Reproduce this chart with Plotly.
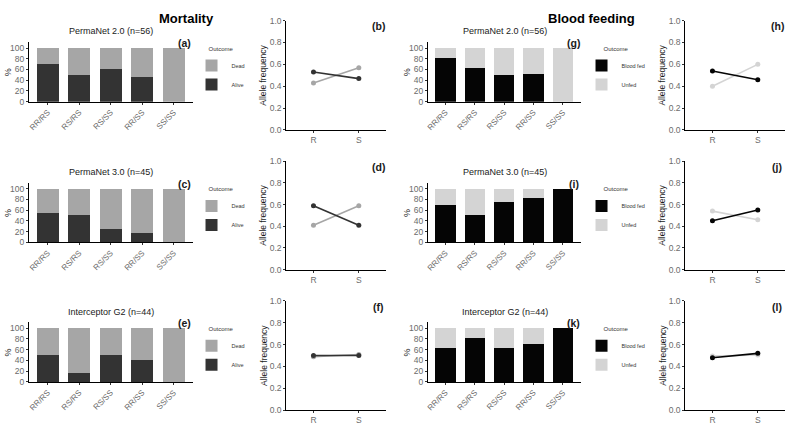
import plotly.graph_objects as go

W, H = 786, 425

genotypes = ["RR/RS", "RS/RS", "RS/SS", "RR/SS", "SS/SS"]
alleles = ["R", "S"]
net_titles = ["PermaNet 2.0 (n=56)", "PermaNet 3.0 (n=45)", "Interceptor G2 (n=44)"]

# Mortality (% of each genotype)
pn2_alive = [71, 49, 61, 46, 0]
pn2_dead = [29, 51, 39, 54, 100]
pn3_alive = [54, 50, 25, 18, 0]
pn3_dead = [46, 50, 75, 82, 100]
ig2_alive = [50, 17, 50, 40, 0]
ig2_dead = [50, 83, 50, 60, 100]

# Blood feeding (% of each genotype)
pn2_fed = [81, 63, 49, 52, 0]
pn2_unfed = [19, 37, 51, 48, 100]
pn3_fed = [69, 50, 75, 82, 100]
pn3_unfed = [31, 50, 25, 18, 0]
ig2_fed = [63, 82, 63, 70, 100]
ig2_unfed = [37, 18, 37, 30, 0]

# Allele frequencies (R, S)
pn2_alive_af = [0.53, 0.47]
pn2_dead_af = [0.43, 0.57]
pn3_alive_af = [0.59, 0.41]
pn3_dead_af = [0.41, 0.59]
ig2_alive_af = [0.50, 0.50]
ig2_dead_af = [0.49, 0.51]

pn2_fed_af = [0.54, 0.46]
pn2_unfed_af = [0.40, 0.60]
pn3_fed_af = [0.45, 0.55]
pn3_unfed_af = [0.54, 0.46]
ig2_fed_af = [0.48, 0.52]
ig2_unfed_af = [0.495, 0.505]

C_DEAD = "#a6a6a6"
C_ALIVE = "#333333"
C_FED = "#050505"
C_UNFED = "#d4d4d4"
FONT = "Arial, Liberation Sans, sans-serif"
TICKC = "#6b6b6b"


def px_x(p):
    return p / W


def px_y(p):
    return 1 - p / H


# layout geometry (pixels)
bar_bottom = [99, 243, 386]
bar_h = 61
line_top = [16, 160, 303]
line_bottom = [128, 271, 415]
col_mort_bar = (27, 191)
col_mort_line = (285, 385)
col_blood_bar = (427, 580)
col_blood_line = (685, 785)

fig = go.Figure()
layout = dict(
    width=W, height=H,
    margin=dict(l=0, r=0, t=0, b=0),
    paper_bgcolor="white", plot_bgcolor="white",
    barmode="stack", bargap=0.3,
    font=dict(family=FONT, size=9, color="#333333"),
    annotations=[],
)

mort_bars = [(pn2_alive, pn2_dead), (pn3_alive, pn3_dead), (ig2_alive, ig2_dead)]
blood_bars = [(pn2_fed, pn2_unfed), (pn3_fed, pn3_unfed), (ig2_fed, ig2_unfed)]
mort_af = [(pn2_alive_af, pn2_dead_af), (pn3_alive_af, pn3_dead_af), (ig2_alive_af, ig2_dead_af)]
blood_af = [(pn2_fed_af, pn2_unfed_af), (pn3_fed_af, pn3_unfed_af), (ig2_fed_af, ig2_unfed_af)]

letters_mort = [("(a)", "(b)"), ("(c)", "(d)"), ("(e)", "(f)")]
letters_blood = [("(g)", "(h)"), ("(i)", "(j)"), ("(k)", "(l)")]

ax_i = 0
legend_i = 0


def axis_name(i):
    return "" if i == 1 else str(i)


def add_bar_panel(col, r, dark, light, dark_name, light_name, dark_c, light_c, order, legend_x):
    global ax_i, legend_i
    ax_i += 1
    legend_i += 1
    n = axis_name(ax_i)
    lg = "legend" + ("" if legend_i == 1 else str(legend_i))
    fig.add_trace(go.Bar(x=genotypes, y=dark, name=dark_name, marker=dict(color=dark_c, line=dict(width=0)),
                         width=0.7, xaxis="x" + n, yaxis="y" + n, legend=lg))
    fig.add_trace(go.Bar(x=genotypes, y=light, name=light_name, marker=dict(color=light_c, line=dict(width=0)),
                         width=0.7, xaxis="x" + n, yaxis="y" + n, legend=lg))
    b = bar_bottom[r]
    layout["xaxis" + n] = dict(
        domain=[px_x(col[0]), px_x(col[1])], anchor="y" + n, type="category",
        range=[-0.6, 4.6], showline=True, linecolor="black", linewidth=1,
        ticks="outside", ticklen=2, tickcolor="#333333", tickangle=-45,
        tickfont=dict(size=8, color=TICKC), showgrid=False, zeroline=False,
    )
    layout["yaxis" + n] = dict(
        domain=[px_y(b), px_y(b - bar_h)], anchor="x" + n, range=[0, 111],
        tickvals=[0, 20, 40, 60, 80, 100], showline=True, linecolor="black", linewidth=1,
        ticks="outside", ticklen=2, tickcolor="#333333",
        tickfont=dict(size=8.5, color=TICKC), showgrid=False, zeroline=False,
    )
    layout[lg] = dict(
        x=px_x(legend_x), y=px_y(b - 60), xanchor="left", yanchor="top",
        traceorder=order, bgcolor="rgba(0,0,0,0)",
        title=dict(text="Outcome", font=dict(size=6, color="#333333"), side="top center"),
        font=dict(size=5.5, color="#333333"),
        tracegroupgap=0,
    )


def add_line_panel(col, r, dark, light, dark_c, light_c):
    global ax_i
    ax_i += 1
    n = axis_name(ax_i)
    fig.add_trace(go.Scatter(x=alleles, y=light, mode="lines+markers",
                             line=dict(color=light_c, width=1.6), marker=dict(color=light_c, size=5),
                             xaxis="x" + n, yaxis="y" + n, showlegend=False))
    fig.add_trace(go.Scatter(x=alleles, y=dark, mode="lines+markers",
                             line=dict(color=dark_c, width=1.6), marker=dict(color=dark_c, size=5),
                             xaxis="x" + n, yaxis="y" + n, showlegend=False))
    layout["xaxis" + n] = dict(
        domain=[px_x(col[0]), px_x(col[1])], anchor="y" + n, type="category",
        range=[-0.6, 1.6], showline=True, linecolor="black", linewidth=1,
        ticks="outside", ticklen=2, tickcolor="#333333",
        tickfont=dict(size=8.5, color=TICKC), showgrid=False, zeroline=False,
    )
    layout["yaxis" + n] = dict(
        domain=[px_y(line_bottom[r]), px_y(line_top[r])], anchor="x" + n, range=[0, 1],
        tickvals=[0, 0.2, 0.4, 0.6, 0.8, 1.0], tickformat=".1f", showline=True,
        linecolor="black", linewidth=1, ticks="outside", ticklen=2, tickcolor="#333333",
        tickfont=dict(size=8.5, color=TICKC), showgrid=False, zeroline=False,
    )


def ann(text, x, y, size, bold=False, angle=0, xanchor="center", color="#1a1a1a"):
    layout["annotations"].append(dict(
        text=("<b>%s</b>" % text) if bold else text, x=px_x(x), y=px_y(y),
        xref="paper", yref="paper", showarrow=False, xanchor=xanchor, yanchor="middle",
        textangle=angle, font=dict(size=size, color=color, family=FONT),
    ))


for r in range(3):
    add_bar_panel(col_mort_bar, r, mort_bars[r][0], mort_bars[r][1], "Alive", "Dead",
                  C_ALIVE, C_DEAD, "reversed", 190)
    add_line_panel(col_mort_line, r, mort_af[r][0], mort_af[r][1], C_ALIVE, C_DEAD)
    add_bar_panel(col_blood_bar, r, blood_bars[r][0], blood_bars[r][1], "Blood fed", "Unfed",
                  C_FED, C_UNFED, "normal", 581)
    add_line_panel(col_blood_line, r, blood_af[r][0], blood_af[r][1], C_FED, C_UNFED)

    b = bar_bottom[r]
    ann(net_titles[r], 109, b - 72, 9)
    ann(net_titles[r], 504, b - 72, 9)
    ann(letters_mort[r][0], 183, b - 60, 10.5, bold=True)
    ann(letters_blood[r][0], 573, b - 60, 10.5, bold=True)
    ann(letters_mort[r][1], 377, line_top[r] + 6, 10.5, bold=True)
    ann(letters_blood[r][1], 777, line_top[r] + 6, 10.5, bold=True)
    ann("%", 6, b - 30, 9, angle=-90)
    ann("%", 406, b - 30, 9, angle=-90)
    ann("Allele frequency", 262, (line_top[r] + line_bottom[r]) / 2, 8.5, angle=-90)
    ann("Allele frequency", 662, (line_top[r] + line_bottom[r]) / 2, 8.5, angle=-90)

ann("Mortality", 185, 14, 13, bold=True, color="black")
ann("Blood feeding", 591, 14, 13, bold=True, color="black")

fig.update_layout(**layout)
fig.write_html("out.html")
